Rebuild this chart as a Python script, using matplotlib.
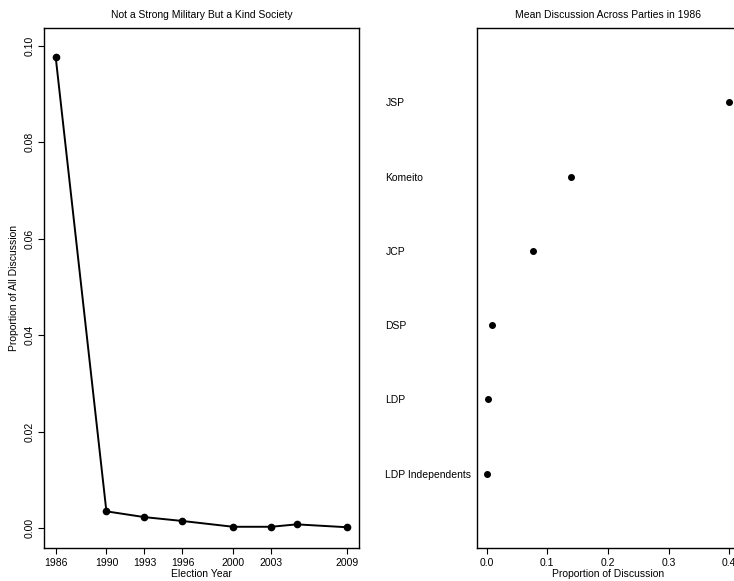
import matplotlib.pyplot as plt

plt.rcParams['font.family'] = ['Liberation Sans', 'DejaVu Sans']

# left panel: share of discussion over election years
years = [1986, 1990, 1993, 1996, 2000, 2003, 2005, 2009]
share = [0.0977, 0.0035, 0.0023, 0.0015, 0.0003, 0.0003, 0.0008, 0.0002]
year_ticks = [1986, 1990, 1993, 1996, 2000, 2003, 2009]
share_ticks = [0.00, 0.02, 0.04, 0.06, 0.08, 0.10]

# right panel: mean discussion by party in 1986
parties = ['LDP Independents', 'LDP', 'DSP', 'JCP', 'Komeito', 'JSP']
party_means = [0.0005, 0.002, 0.008, 0.076, 0.139, 0.400]
prop_ticks = [0.0, 0.1, 0.2, 0.3, 0.4]

W, H = 734, 581
fig = plt.figure(figsize=(W / 100, H / 100), dpi=100)
fs = 7.5

# axes boxes in pixels -> figure fractions
def box(x0, y0, x1, y1):
    return [x0 / W, 1 - y1 / H, (x1 - x0) / W, (y1 - y0) / H]

ax1 = fig.add_axes(box(44, 28, 359, 548))
ax1.plot(years, share, color='black', lw=1.4, marker='o', ms=4.5)
ax1.set_xlim(1985.08, 2009.92)
ax1.set_ylim(-0.0041, 0.1037)
ax1.set_xticks(year_ticks)
ax1.set_xticklabels([str(y) for y in year_ticks], fontsize=fs)
ax1.set_yticks(share_ticks)
ax1.set_yticklabels(['%.2f' % v for v in share_ticks], fontsize=fs,
                    rotation=90, va='center')
ax1.set_xlabel('Election Year', fontsize=fs, labelpad=1)
ax1.set_ylabel('Proportion of All Discussion', fontsize=fs, labelpad=4)
ax1.set_title('Not a Strong Military But a Kind Society', fontsize=fs, pad=7)
ax1.tick_params(direction='out', length=4, width=0.8, pad=3)

# right panel, clipped by the figure edge like the scan
ax2 = fig.add_axes(box(477, 28, 739, 548))
ax2.plot(party_means, range(1, len(parties) + 1), 'o', color='black', ms=4)
ax2.set_xlim(-0.016, 0.416)
ax2.set_ylim(0, 7)
ax2.set_xticks(prop_ticks)
ax2.set_xticklabels(['%.1f' % v for v in prop_ticks], fontsize=fs)
ax2.set_yticks(range(1, len(parties) + 1))
ax2.set_yticklabels(parties, fontsize=fs, ha='left')
ax2.tick_params(axis='y', length=0, pad=66)
ax2.tick_params(axis='x', direction='out', length=4, width=0.8, pad=3)
ax2.set_xlabel('Proportion of Discussion', fontsize=fs, labelpad=1)
ax2.set_title('Mean Discussion Across Parties in 1986', fontsize=fs, pad=7)

for ax in (ax1, ax2):
    for s in ax.spines.values():
        s.set_linewidth(1.0)

fig.savefig('out.png', dpi=100)
